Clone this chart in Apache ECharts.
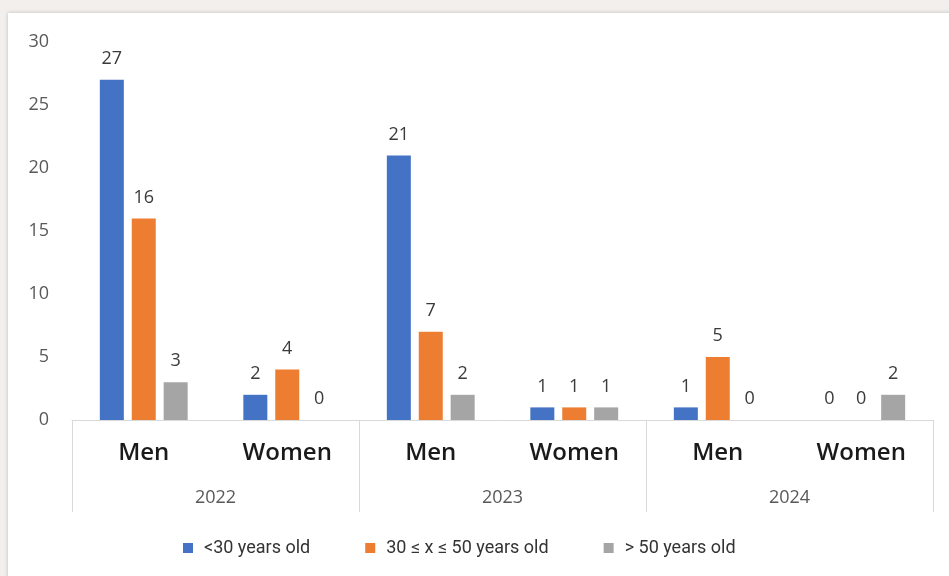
<!DOCTYPE html>
<html>
<head>
<meta charset="utf-8">
<script src="https://cdn.jsdelivr.net/npm/echarts@6/dist/echarts.min.js"></script>
<style>
html,body{margin:0;padding:0;background:#f2efec;}
#c{width:949px;height:576px;}
</style>
</head>
<body>
<div id="c"></div>
<script>
var genders = ['Men', 'Women', 'Men', 'Women', 'Men', 'Women'];
var years = ['2022', '2023', '2024'];
var seriesNames = ['<30 years old', '30 \u2264 x \u2264 50 years old', '> 50 years old'];
var under30 = [27, 2, 21, 1, 1, 0];
var from30to50 = [16, 4, 7, 1, 5, 0];
var over50 = [3, 0, 2, 1, 0, 2];
var yTicks = { min: 0, max: 30, interval: 5 };

var colors = ['#4472C4', '#ED7D31', '#A5A5A5'];
var font = '"Open Sans", "Noto Sans", sans-serif';
var chart = echarts.init(document.getElementById('c'), null, { renderer: 'canvas' });

function barSeries(name, data, color) {
  return {
    name: name,
    type: 'bar',
    xAxisIndex: 0,
    data: data,
    barWidth: 24,
    barGap: '33%',
    itemStyle: { color: color },
    label: {
      show: true,
      position: 'top',
      distance: 12,
      color: '#3a3a3a',
      fontSize: 18,
      fontFamily: font
    }
  };
}

chart.setOption({
  backgroundColor: 'transparent',
  animation: false,
  graphic: [{
    type: 'rect',
    z: -10,
    shape: { x: 8, y: 13, width: 960, height: 600 },
    style: { fill: '#ffffff', shadowBlur: 4, shadowColor: 'rgba(0,0,0,0.22)', shadowOffsetY: 0 }
  }],
  grid: { left: 72, right: 16, top: 42, bottom: 156, containLabel: false },
  legend: {
    bottom: 14,
    left: 178,
    itemWidth: 10,
    itemHeight: 10,
    itemGap: 55,
    icon: 'rect',
    data: seriesNames,
    textStyle: { color: '#333333', fontSize: 18, fontFamily: 'Roboto, sans-serif', padding: [0, 0, 0, 6] }
  },
  xAxis: [{
    type: 'category',
    data: genders,
    position: 'bottom',
    axisLine: { show: true, lineStyle: { color: '#d9d9d9', width: 1 } },
    axisTick: { show: false },
    axisLabel: { color: '#1a1a1a', fontSize: 24, fontWeight: 600, fontFamily: font, margin: 21 }
  }, {
    type: 'category',
    data: years,
    position: 'bottom',
    boundaryGap: true,
    axisLine: { show: false },
    axisTick: { show: true, length: 92, lineStyle: { color: '#d9d9d9', width: 1 } },
    axisLabel: { color: '#595959', fontSize: 18, fontFamily: font, margin: 69 }
  }],
  yAxis: {
    type: 'value',
    min: yTicks.min,
    max: yTicks.max,
    interval: yTicks.interval,
    axisLine: { show: false },
    axisTick: { show: false },
    splitLine: { show: false },
    axisLabel: { color: '#595959', fontSize: 18, fontFamily: font, margin: 23 }
  },
  series: [
    barSeries(seriesNames[0], under30, colors[0]),
    barSeries(seriesNames[1], from30to50, colors[1]),
    barSeries(seriesNames[2], over50, colors[2])
  ]
});
</script>
</body>
</html>
